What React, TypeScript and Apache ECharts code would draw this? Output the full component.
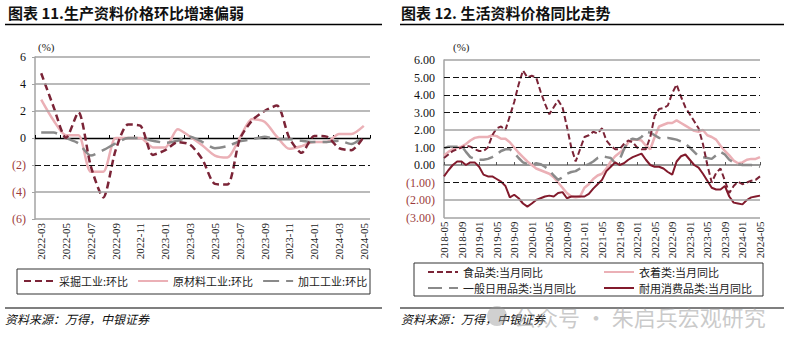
import React, { useEffect, useRef } from 'react';
import * as echarts from 'echarts';

// ---------- Left chart: 生产资料价格环比 ----------
const leftMonths = [
  '2022-03', '2022-04', '2022-05', '2022-06', '2022-07', '2022-08', '2022-09', '2022-10', '2022-11', '2022-12',
  '2023-01', '2023-02', '2023-03', '2023-04', '2023-05', '2023-06', '2023-07', '2023-08', '2023-09', '2023-10',
  '2023-11', '2023-12', '2024-01', '2024-02', '2024-03', '2024-04', '2024-05',
];
const miningMoM = [4.8, 2.3, 0.0, 1.9, -2.1, -4.4, -0.9, 1.0, 0.9, -1.25, -0.9, -0.3, -0.5, -1.6, -3.4, -3.45, -0.1, 1.3, 2.0, 2.4, 0.0, -1.1, 0.15, 0.1, -0.75, -0.9, 0.1];
const rawMaterialMoM = [2.85, 1.3, 0.2, 0.2, -2.5, -2.5, 0.0, 0.0, 0.0, -0.7, -0.7, 0.65, 0.1, -0.55, -1.3, -1.45, 0.0, 1.4, 1.2, 0.1, -0.8, -0.6, -0.3, -0.3, 0.3, 0.3, 0.9];
const processingMoM = [0.4, 0.4, 0.0, -0.4, -1.3, -0.9, -0.4, 0.0, 0.0, -0.2, -0.35, -0.2, 0.1, -0.3, -0.75, -0.6, -0.25, -0.1, 0.1, -0.1, -0.1, -0.2, -0.3, -0.3, -0.2, -0.45, 0.1];
const leftTicks = [-6, -4, -2, 0, 2, 4, 6];
const leftNames = ['采掘工业:环比', '原材料工业:环比', '加工工业:环比'];

// ---------- Right chart: 生活资料价格同比 ----------
const rightMonths = [
  '2018-05', '2018-06', '2018-07', '2018-08', '2018-09', '2018-10', '2018-11', '2018-12',
  '2019-01', '2019-02', '2019-03', '2019-04', '2019-05', '2019-06', '2019-07', '2019-08', '2019-09', '2019-10', '2019-11', '2019-12',
  '2020-01', '2020-02', '2020-03', '2020-04', '2020-05', '2020-06', '2020-07', '2020-08', '2020-09', '2020-10', '2020-11', '2020-12',
  '2021-01', '2021-02', '2021-03', '2021-04', '2021-05', '2021-06', '2021-07', '2021-08', '2021-09', '2021-10', '2021-11', '2021-12',
  '2022-01', '2022-02', '2022-03', '2022-04', '2022-05', '2022-06', '2022-07', '2022-08', '2022-09', '2022-10', '2022-11', '2022-12',
  '2023-01', '2023-02', '2023-03', '2023-04', '2023-05', '2023-06', '2023-07', '2023-08', '2023-09', '2023-10', '2023-11', '2023-12',
  '2024-01', '2024-02', '2024-03', '2024-04', '2024-05',
];
const foodYoY = [
  0.4, 0.6, 0.8, 0.9, 1.0, 1.1, 1.05, 0.9,
  0.8, 0.8, 1.0, 1.7, 2.1, 2.2, 2.0, 2.8, 3.6, 4.6, 5.4, 5.0,
  5.1, 5.0, 4.2, 3.5, 2.9, 3.3, 3.7, 3.3, 2.2, 1.0, 0.2, 0.9,
  1.6, 1.7, 1.9, 1.8, 2.1, 1.4, 1.1, 0.9, 0.9, 1.2, 1.4, 1.3,
  1.0, 0.9, 0.9, 1.6, 2.8, 3.2, 3.25, 3.4, 4.1, 4.6, 3.9, 3.3,
  2.9, 2.5, 2.1, 1.2, 0.0, -1.0, -0.45, -0.2, -0.9, -1.6, -1.2, -0.95,
  -1.1, -1.0, -0.9, -0.85, -0.65,
];
const clothingYoY = [
  0.55, 0.75, 0.9, 1.0, 1.05, 1.2, 1.4, 1.55,
  1.6, 1.6, 1.6, 1.7, 1.65, 1.5, 1.5, 1.3, 1.0, 0.7, 0.45, 0.2,
  0.0, -0.2, -0.3, -0.4, -0.5, -0.7, -1.0, -1.3, -1.6, -1.8, -1.85, -1.8,
  -1.3, -1.1, -0.8, -0.6, -0.5, -0.2, 0.2, 0.5, 0.7, 0.9, 1.3, 1.45,
  1.45, 1.4, 1.1, 0.9, 1.6, 2.2, 2.3, 2.4, 2.4, 2.55, 2.4, 2.25,
  2.1, 1.95, 1.9, 2.0, 1.7, 1.6, 1.45, 1.1, 0.8, 0.55, 0.25, 0.1,
  0.15, 0.3, 0.35, 0.35, 0.45,
];
const dailyGoodsYoY = [
  0.95, 1.05, 1.05, 1.05, 1.1, 0.75, 0.45, 0.35,
  0.3, 0.3, 0.35, 0.45, 0.6, 0.8, 0.9, 0.9, 0.7, 0.4, 0.15, 0.05,
  0.0, 0.1, 0.05, -0.1, -0.3, -0.6, -0.85, -0.7, -0.5, -0.4, -0.35, -0.2,
  -0.05, 0.05, 0.2, 0.4, 0.5, 0.45, 0.4, 0.1, 0.3, 0.9, 1.4, 1.5,
  1.45, 1.6, 1.9, 1.85, 1.7, 1.55, 1.5, 1.55, 1.5, 1.45, 1.35, 1.2,
  1.0, 0.75, 0.5, 0.45, 0.4, 0.35, 0.55, 0.75, 0.6, 0.3, 0.15, 0.05,
  0.0, 0.0, 0.0, -0.05, -0.1,
];
const durablesYoY = [
  -0.65, -0.3, 0.0, 0.2, 0.2, 0.0, 0.15, 0.15,
  -0.1, -0.55, -0.65, -0.65, -0.8, -0.95, -1.2, -1.85, -1.7, -1.9, -2.2, -2.38,
  -2.2, -2.0, -1.9, -1.8, -1.75, -1.8, -1.6, -1.55, -1.9, -1.8, -1.8, -1.8,
  -1.8, -1.65, -1.35, -1.1, -0.85, -0.35, -0.1, 0.15, 0.0, 0.1, 0.3, 0.45,
  0.55, 0.65, 0.3, 0.0, -0.1, -0.1, -0.2, -0.4, -0.55, 0.2, 0.5, 0.6,
  0.3, 0.0, -0.15, -0.5, -0.9, -1.3, -1.4, -1.4, -1.2, -1.8, -2.15, -2.2,
  -2.25, -2.0, -1.85, -1.8, -1.75,
];
const rightTicks = [-3, -2, -1, 0, 1, 2, 3, 4, 5, 6];
const rightNames = ['食品类:当月同比', '衣着类:当月同比', '一般日用品类:当月同比', '耐用消费品类:当月同比'];

// ---------- styling ----------
const SERIF = '"Liberation Serif", "Times New Roman", serif';
const CJK = '"Noto Sans CJK SC", "Noto Sans", sans-serif';
const GREY = '#A3A3A3';
const NEG = '#9C3B3B';
const MAROON = '#7B2437';
const DURABLE = '#821A2C';
const PINK = '#EBB0B6';
const MIDGREY = '#8A8A8A';

const greyLine = { color: GREY, width: 1.6, type: 'solid' };
const dashBlack = { color: '#111', width: 1, type: [6, 3] };

const leftLabel = (v: any) => {
  const n = Number(v);
  return n < 0 ? `(${-n})` : `${n}`;
};
const rightLabel = (v: any) => {
  const n = Number(v);
  return n < 0 ? `(${(-n).toFixed(2)})` : n.toFixed(2);
};
const labelColor = (v: any) => (Number(v) < 0 ? NEG : '#111');

function buildOption(): any {
  const leftGridLines = leftTicks
    .filter((v) => v !== 0)
    .map((v) => ({ yAxis: v, lineStyle: v === -2 ? dashBlack : greyLine }));
  const rightDashed = [5, 4, 3, 1, -1];
  const rightGridLines = rightTicks
    .filter((v) => v !== 0)
    .map((v) => ({ yAxis: v, lineStyle: rightDashed.includes(v) ? dashBlack : greyLine }));

  const gridSeries = (xi: number, yi: number, data: any[]) => ({
    type: 'line',
    name: `__grid${xi}`,
    xAxisIndex: xi,
    yAxisIndex: yi,
    data: [],
    z: 1,
    silent: true,
    markLine: {
      silent: true,
      symbol: ['none', 'none'],
      label: { show: false },
      animation: false,
      data,
    },
  });

  const legendText = { fontFamily: CJK, fontSize: 11, color: '#222', lineHeight: 12 };
  const noSymbol = { color: 'rgba(0,0,0,0)', borderWidth: 0, opacity: 0 };

  return {
    animation: false,
    backgroundColor: '#fff',
    grid: [
      { left: 35, top: 57, width: 335, height: 162, outerBoundsMode: 'none', containLabel: false },
      { left: 444, top: 60, width: 316, height: 157.5, outerBoundsMode: 'none', containLabel: false },
    ],
    xAxis: [
      {
        gridIndex: 0, type: 'category', data: leftMonths, boundaryGap: true,
        axisLine: { show: false, onZero: false }, axisTick: { show: false },
        axisLabel: { rotate: 90, interval: 1, fontFamily: SERIF, fontSize: 11, color: '#222', margin: 4 },
        splitLine: { show: false },
      },
      {
        gridIndex: 0, type: 'category', data: leftMonths, boundaryGap: true,
        axisLine: { show: true, onZero: true, lineStyle: { color: '#000', width: 1.3 } },
        axisTick: { show: true, interval: 1, length: 3, lineStyle: { color: '#000' } },
        axisLabel: { show: false }, splitLine: { show: false },
      },
      {
        gridIndex: 1, type: 'category', data: rightMonths, boundaryGap: false,
        axisLine: { show: false, onZero: false }, axisTick: { show: false },
        axisLabel: { rotate: 90, interval: 3, fontFamily: SERIF, fontSize: 11, color: '#222', margin: 4 },
        splitLine: { show: false },
      },
      {
        gridIndex: 1, type: 'category', data: rightMonths, boundaryGap: false,
        axisLine: { show: true, onZero: true, lineStyle: { color: '#999', width: 1.8 } },
        axisTick: { show: true, interval: 3, length: 3, lineStyle: { color: '#555' } },
        axisLabel: { show: false }, splitLine: { show: false },
      },
    ],
    yAxis: [
      {
        gridIndex: 0, type: 'value', min: -6, max: 6, interval: 2,
        axisLine: { show: true, lineStyle: { color: GREY, width: 1.5 } },
        axisTick: { show: true, length: 3, lineStyle: { color: GREY } },
        axisLabel: { formatter: leftLabel, color: labelColor, fontFamily: SERIF, fontSize: 12, margin: 9 },
        splitLine: { show: false },
      },
      {
        gridIndex: 1, type: 'value', min: -3, max: 6, interval: 1,
        axisLine: { show: true, lineStyle: { color: GREY, width: 1.5 } },
        axisTick: { show: false },
        axisLabel: { formatter: rightLabel, color: labelColor, fontFamily: SERIF, fontSize: 12, margin: 9 },
        splitLine: { show: false },
      },
    ],
    legend: [
      {
        data: leftNames, left: 23, top: 275, itemWidth: 30, itemHeight: 12, itemGap: 9,
        selectedMode: false, textStyle: legendText, padding: 0, itemStyle: noSymbol,
      },
      {
        data: [rightNames[0], rightNames[2]], orient: 'vertical', left: 427, top: 266,
        itemWidth: 30, itemHeight: 12, itemGap: 4, selectedMode: false, textStyle: legendText, padding: 0,
        itemStyle: noSymbol,
      },
      {
        data: [rightNames[1], rightNames[3]], orient: 'vertical', left: 603, top: 266,
        itemWidth: 30, itemHeight: 12, itemGap: 4, selectedMode: false, textStyle: legendText, padding: 0,
        itemStyle: noSymbol,
      },
    ],
    series: [
      gridSeries(0, 0, leftGridLines),
      gridSeries(2, 1, rightGridLines),
      {
        type: 'line', name: leftNames[0], xAxisIndex: 0, yAxisIndex: 0, data: miningMoM,
        symbol: 'none', smooth: 0.25, z: 4,
        lineStyle: { color: MAROON, width: 2.5, type: [7, 4] }, itemStyle: { color: MAROON },
      },
      {
        type: 'line', name: leftNames[1], xAxisIndex: 0, yAxisIndex: 0, data: rawMaterialMoM,
        symbol: 'none', smooth: 0.25, z: 3,
        lineStyle: { color: PINK, width: 2.5 }, itemStyle: { color: PINK },
      },
      {
        type: 'line', name: leftNames[2], xAxisIndex: 0, yAxisIndex: 0, data: processingMoM,
        symbol: 'none', smooth: 0.25, z: 3,
        lineStyle: { color: MIDGREY, width: 2.5, type: [16, 7] }, itemStyle: { color: MIDGREY },
      },
      {
        type: 'line', name: rightNames[1], xAxisIndex: 2, yAxisIndex: 1, data: clothingYoY,
        symbol: 'none', z: 3,
        lineStyle: { color: PINK, width: 2.5 }, itemStyle: { color: PINK },
      },
      {
        type: 'line', name: rightNames[2], xAxisIndex: 2, yAxisIndex: 1, data: dailyGoodsYoY,
        symbol: 'none', z: 3,
        lineStyle: { color: MIDGREY, width: 2.5, type: [14, 7] }, itemStyle: { color: MIDGREY },
      },
      {
        type: 'line', name: rightNames[0], xAxisIndex: 2, yAxisIndex: 1, data: foodYoY,
        symbol: 'none', z: 4,
        lineStyle: { color: MAROON, width: 2, type: [6, 3] }, itemStyle: { color: MAROON },
      },
      {
        type: 'line', name: rightNames[3], xAxisIndex: 2, yAxisIndex: 1, data: durablesYoY,
        symbol: 'none', z: 4,
        lineStyle: { color: DURABLE, width: 2 }, itemStyle: { color: DURABLE },
      },
    ],
    graphic: [
      { type: 'text', left: 8, top: 5, style: { text: '图表 11.生产资料价格环比增速偏弱', font: `bold 15px ${CJK}`, fill: '#111' } },
      { type: 'text', left: 401, top: 5, style: { text: '图表 12. 生活资料价格同比走势', font: `bold 15px ${CJK}`, fill: '#111' } },
      { type: 'line', shape: { x1: 5, y1: 24.5, x2: 382, y2: 24.5 }, style: { stroke: '#000', lineWidth: 1.5 } },
      { type: 'line', shape: { x1: 400, y1: 24.5, x2: 784, y2: 24.5 }, style: { stroke: '#000', lineWidth: 1.5 } },
      { type: 'text', left: 38, top: 41, style: { text: '(%)', font: `11px ${SERIF}`, fill: '#222' } },
      { type: 'text', left: 453, top: 41, style: { text: '(%)', font: `11px ${SERIF}`, fill: '#222' } },
      { type: 'rect', shape: { x: 17, y: 269, width: 353, height: 25 }, style: { fill: 'none', stroke: '#333', lineWidth: 1 } },
      { type: 'rect', shape: { x: 414, y: 263, width: 349, height: 33 }, style: { fill: 'none', stroke: '#333', lineWidth: 1 } },
      { type: 'line', shape: { x1: 5, y1: 308, x2: 382, y2: 308 }, style: { stroke: '#000', lineWidth: 1.2 } },
      { type: 'line', shape: { x1: 400, y1: 308, x2: 784, y2: 308 }, style: { stroke: '#000', lineWidth: 1.2 } },
      { type: 'text', left: 5, top: 312, style: { text: '资料来源：万得，中银证券', font: `italic 12px ${CJK}`, fill: '#111' } },
      { type: 'text', left: 401, top: 312, style: { text: '资料来源：万得，中银证券', font: `italic 12px ${CJK}`, fill: '#111' } },
      { type: 'circle', shape: { cx: 497, cy: 316, r: 10 }, style: { fill: 'rgba(150,150,150,0.45)' }, z: 100 },
      { type: 'text', left: 514, top: 305, z: 100, style: { text: '公众号 · 朱启兵宏观研究', font: `22px ${CJK}`, fill: 'rgba(150,150,150,0.5)' } },
    ],
  };
}

export default function App() {
  const ref = useRef<HTMLDivElement>(null);
  useEffect(() => {
    if (!ref.current) return;
    const chart = echarts.init(ref.current, undefined, { renderer: 'svg' });
    chart.setOption(buildOption());
    return () => chart.dispose();
  }, []);
  return (
    <div
      ref={ref}
      style={{ position: 'absolute', left: 0, top: 0, width: 790, height: 349, background: '#fff' }}
    />
  );
}
